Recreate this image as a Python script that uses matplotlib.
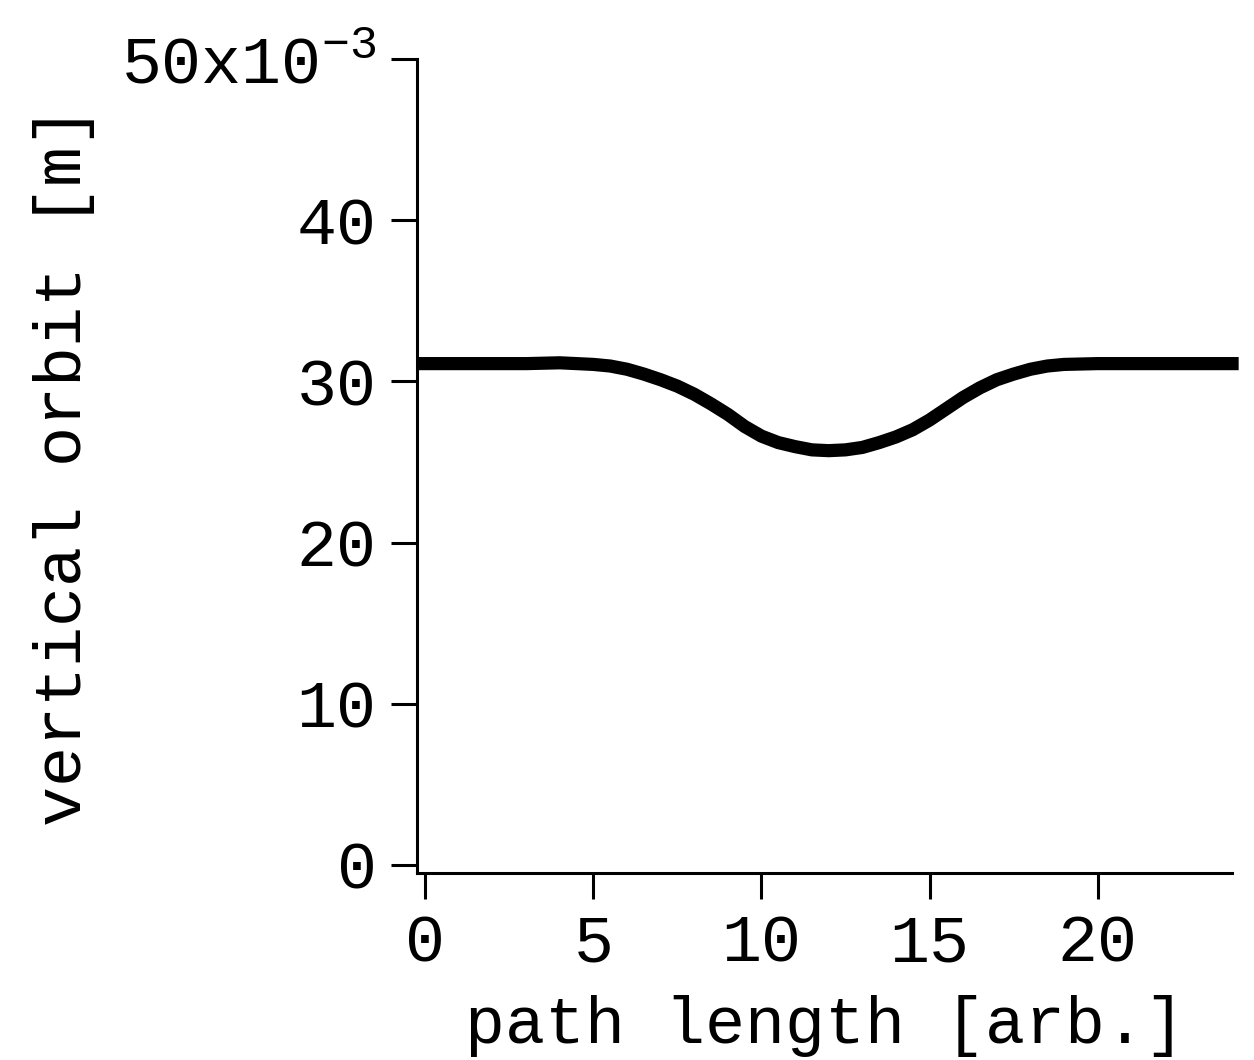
import numpy as np
import matplotlib.pyplot as plt

plt.rcParams['font.family'] = ['Liberation Mono', 'DejaVu Sans']
plt.rcParams['mathtext.fontset'] = 'custom'
plt.rcParams['mathtext.rm'] = 'Liberation Mono'
plt.rcParams['mathtext.it'] = 'Liberation Mono'

# path length [arb.] and vertical orbit [x1e-3 m]
path = np.array([0, 1, 2, 3, 4, 5, 5.5, 6, 6.5, 7, 7.5, 8, 8.5, 9, 9.5, 10, 10.5, 11, 11.5, 12,
                 12.5, 13, 13.5, 14, 14.5, 15, 15.5, 16, 16.5, 17, 17.5, 18, 18.5, 19,
                 20, 21, 22, 23, 24])
orbit = np.array([31.1, 31.1, 31.1, 31.1, 31.15, 31.05, 30.95, 30.75, 30.45, 30.1, 29.7, 29.2,
                  28.6, 27.95, 27.2, 26.6, 26.2, 25.95, 25.75, 25.7,
                  25.75, 25.9, 26.2, 26.55, 27.0, 27.6, 28.3, 29.0, 29.6, 30.1, 30.45, 30.75,
                  30.95, 31.05, 31.1, 31.1, 31.1, 31.1, 31.1])

xticks = [0, 5, 10, 15, 20]
yticks = [0, 10, 20, 30, 40, 50]
ytick_labels = ['0', '10', '20', '30', '40', r'50x10$^{-3}$']

fig = plt.figure(figsize=(12.54, 10.60), dpi=100)
ax = fig.add_axes([0.3325, 0.1764, 0.65, 0.768])

ax.plot(path, orbit, color='black', linewidth=9.5, clip_on=False,
        solid_joinstyle='round')

ax.set_xlim(-0.25, 24)
ax.set_ylim(-0.5, 50)
ax.set_xticks(xticks)
ax.set_yticks(yticks)
ax.set_yticklabels(ytick_labels)

for s in ['top', 'right']:
    ax.spines[s].set_visible(False)
for s in ['left', 'bottom']:
    ax.spines[s].set_linewidth(2.2)

ax.tick_params(axis='both', direction='out', length=19, width=2.2, labelsize=48)
ax.tick_params(axis='y', pad=10)
ax.tick_params(axis='x', pad=10)

ax.set_xlabel('path length [arb.]', fontsize=48, labelpad=14)
ax.set_ylabel('vertical orbit [m]', fontsize=48, labelpad=19)

fig.savefig('out.png', dpi=100)
